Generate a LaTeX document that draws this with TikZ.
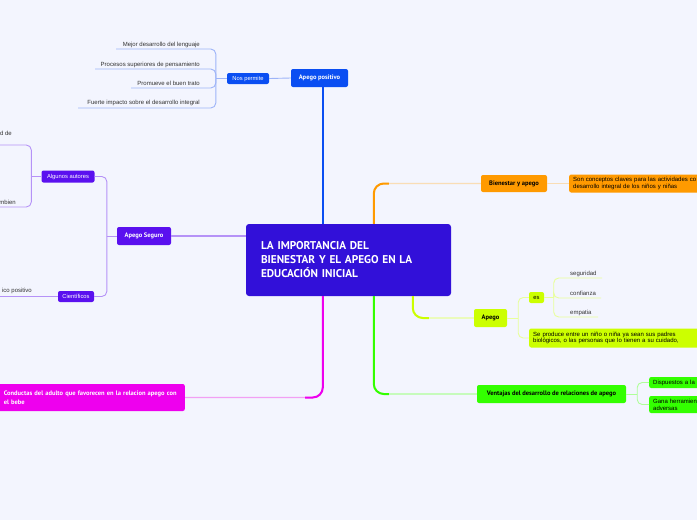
\documentclass[tikz,border=0pt]{standalone}
\usepackage{fontspec}
\setmainfont{Liberation Sans}
\newfontfamily\lbl{PT Sans}
\usetikzlibrary{calc}
\definecolor{bg}{HTML}{F3F5FE}
\definecolor{cmain}{HTML}{3210D9}
\definecolor{cblue}{HTML}{0A4EF2}
\definecolor{lblue}{HTML}{9DB4F8}
\definecolor{cviol}{HTML}{5A10EF}
\definecolor{lviol}{HTML}{B592F7}
\definecolor{cmag}{HTML}{EE00EE}
\definecolor{lmag}{HTML}{F2A0F4}
\definecolor{corg}{HTML}{FF9A00}
\definecolor{lorg}{HTML}{F9DDB5}
\definecolor{cyg}{HTML}{CCFF00}
\definecolor{lyg}{HTML}{E8FF9A}
\definecolor{cgrn}{HTML}{33FF00}
\definecolor{lgrn}{HTML}{AFFF99}
\definecolor{leaft}{HTML}{333333}
\tikzset{
  box/.style={rounded corners=2pt, inner sep=0pt, align=center},
  toplbl/.style={box, font=\lbl\bfseries\fontsize{6.5}{7}\selectfont},
  sublbl/.style={box, font=\fontsize{5.8}{6.5}\selectfont},
  leaf/.style={font=\fontsize{6}{7}\selectfont, text=leaft, inner sep=0pt},
  boxtext/.style={font=\fontsize{6}{6.8}\selectfont, inner xsep=4pt, inner ysep=0pt, align=left, rounded corners=2pt},
  thinline/.style={line width=0.9pt, rounded corners=5pt},
  mainline/.style={line width=2pt, rounded corners=10pt},
  fadeline/.style={line width=1.4pt, rounded corners=10pt},
}
\begin{document}
\begin{tikzpicture}[x=1pt,y=-1pt]
\useasboundingbox (0,0) rectangle (697,520);
\fill[bg] (0,0) rectangle (697,520);
\clip (0,0) rectangle (697,520);

% central
\node[fill=cmain, text=white, rounded corners=3pt, minimum width=205pt, minimum height=72pt,
      text width=175pt, inner xsep=15pt, align=left,
      font=\lbl\bfseries\fontsize{11.3}{14}\selectfont] (central) at (348.5,260)
      {LA IMPORTANCIA DEL\\BIENESTAR Y EL APEGO EN LA\\EDUCACIÓN INICIAL};

% Apego positivo branch
\node[toplbl, fill=cblue, text=white, minimum width=57pt, minimum height=18pt] (apos) at (319.5,78) {Apego positivo};
\node[sublbl, fill=cblue, text=white, minimum width=42pt, minimum height=11pt] (nos) at (248,78.5) {Nos permite};
\node[leaf, anchor=base east] (p1) at (200,46) {Mejor desarrollo del lenguaje};
\node[leaf, anchor=base east] (p2) at (200,66) {Procesos superiores de pensamiento};
\node[leaf, anchor=base east] (p3) at (200,85) {Promueve el buen trato};
\node[leaf, anchor=base east] (p4) at (200,104) {Fuerte impacto sobre el desarrollo integral};
\coordinate (u1) at (116,49);
\coordinate (u2) at (95,69);
\coordinate (u3) at (131,88);
\coordinate (u4) at (78,108);

% Apego Seguro branch
\node[toplbl, fill=cviol, text=white, minimum width=54pt, minimum height=18pt] (seguro) at (144,236) {Apego Seguro};
\node[sublbl, fill=cviol, text=white, minimum width=53pt, minimum height=12pt] (autores) at (68,176.5) {Algunos autores};
\node[sublbl, fill=cviol, text=white, minimum width=36pt, minimum height=11pt] (cient) at (76,296.5) {Científicos};
\node[leaf, anchor=base east] (a1) at (12,135) {d de};
\node[leaf, anchor=base east] (a2) at (16,204) {mbien};
\node[leaf, anchor=base east] (c1) at (32,292) {ico positivo};
\coordinate (ua1) at (-5,145);
\coordinate (ua2) at (-5,207);
\coordinate (uc) at (-5,296.5);

% Conductas
\node[boxtext, fill=cmag, text=white, anchor=east, minimum height=27pt, text width=175pt, inner xsep=6pt,
      font=\lbl\bfseries\fontsize{6.5}{8.6}\selectfont] (cond) at (185,397.5)
      {Conductas del adulto que favorecen en la relacion apego con\\el bebe};

% Bienestar y apego
\node[toplbl, fill=corg, text=black, minimum width=66pt, minimum height=17pt] (bien) at (514,183.5) {Bienestar y apego};
\node[boxtext, fill=corg, text=black, anchor=west, minimum height=18pt, text width=160pt] (son) at (569,183.5)
      {Son conceptos claves para las actividades co\\desarrollo integral de los niños y niñas};

% Apego
\node[toplbl, fill=cyg, text=black, minimum width=33pt, minimum height=18pt] (apego) at (490.5,318) {Apego};
\node[sublbl, fill=cyg, text=black, minimum width=15pt, minimum height=11pt] (es) at (536.5,297.5) {es};
\node[boxtext, fill=cyg, text=black, anchor=west, minimum height=19pt, text width=175pt] (se) at (529,338)
      {Se produce entre un niño o niña ya sean sus padres\\biológicos, o las personas que lo tienen a su cuidado,};
\node[leaf, anchor=base west] (s1) at (570,275) {seguridad};
\node[leaf, anchor=base west] (s2) at (570,295) {confianza};
\node[leaf, anchor=base west] (s3) at (570,314) {empatia};
\coordinate (e1) at (602,278);
\coordinate (e2) at (601,298);
\coordinate (e3) at (598,317);

% Ventajas
\node[toplbl, fill=cgrn, text=black, minimum width=149pt, minimum height=18pt] (vent) at (551.5,394) {Ventajas del desarrollo de relaciones de apego};
\node[boxtext, fill=cgrn, text=black, anchor=west, minimum height=11pt, text width=60pt] (disp) at (649,382.5) {Dispuestos a la};
\node[boxtext, fill=cgrn, text=black, anchor=west, minimum height=17pt, text width=60pt] (gana) at (649,404.5) {Gana herramientas\\adversas};

% ---- main connectors
\coordinate (ab) at ($(apos.south)+(3.5,0)$);
\draw[line width=2pt, cblue] (ab) -- (ab |- central.north);
\draw[line width=1.2pt, lviol] (central.west |- seguro.east) -- (seguro.east);

\coordinate (ob0) at ($(central.north west)+(128,0)$);
\coordinate (ob) at ($(bien.west)+(-92,0)$);
\draw[fadeline, lorg] (ob0) |- (bien.west);
\draw[mainline, corg] (ob0) |- (ob);

\coordinate (mb0) at ($(central.south west)+(77,0)$);
\coordinate (mb) at ($(cond.east)+(120,0)$);
\draw[fadeline, lmag] (mb0) |- (cond.east);
\draw[mainline, cmag] (mb0) |- (mb);

\coordinate (yb0) at ($(central.south west)+(167,0)$);
\coordinate (yb) at ($(apego.west)+(-45,0)$);
\draw[fadeline, lyg] (yb0) |- (apego.west);
\draw[mainline, cyg] (yb0) |- (yb);

\coordinate (gb0) at ($(central.south west)+(128,0)$);
\coordinate (gb) at ($(vent.west)+(-88,0)$);
\draw[fadeline, lgrn] (gb0) |- (vent.west);
\draw[mainline, cgrn] (gb0) |- (gb);

% ---- sub connectors
\draw[thinline, lblue] (apos.west) -- (nos.east);
\coordinate (nb) at ($(nos.west)+(-11,0)$);
\draw[thinline, lblue] (nos.west) -- (nb);
\foreach \u in {u1,u2,u3,u4} \draw[thinline, lblue] (nb) |- (\u);

\coordinate (sb) at ($(seguro.west)+(-10,0)$);
\draw[thinline, lviol] (seguro.west) -- (sb);
\draw[thinline, lviol] (sb) |- (autores.east);
\draw[thinline, lviol] (sb) |- (cient.east);
\coordinate (atb) at ($(autores.west)+(-10,0)$);
\draw[thinline, lviol] (autores.west) -- (atb);
\draw[thinline, lviol] (atb) |- (ua1);
\draw[thinline, lviol] (atb) |- (ua2);
\draw[thinline, lviol] (cient.west) -- (uc);

\draw[thinline, lorg] (bien.east) -- (son.west);

\coordinate (pb) at ($(apego.east)+(11,0)$);
\draw[thinline, lyg] (apego.east) -- (pb);
\draw[thinline, lyg] (pb) |- (es.west);
\draw[thinline, lyg] (pb) |- (se.west);
\coordinate (eb) at ($(es.east)+(9.5,0)$);
\draw[thinline, lyg] (es.east) -- (eb);
\foreach \e in {e1,e2,e3} \draw[thinline, lyg] (eb) |- (\e);

\coordinate (vb) at ($(vent.east)+(11,0)$);
\draw[thinline, lgrn] (vent.east) -- (vb);
\draw[thinline, lgrn] (vb) |- (disp.west);
\draw[thinline, lgrn] (vb) |- (gana.west);
\end{tikzpicture}
\end{document}
